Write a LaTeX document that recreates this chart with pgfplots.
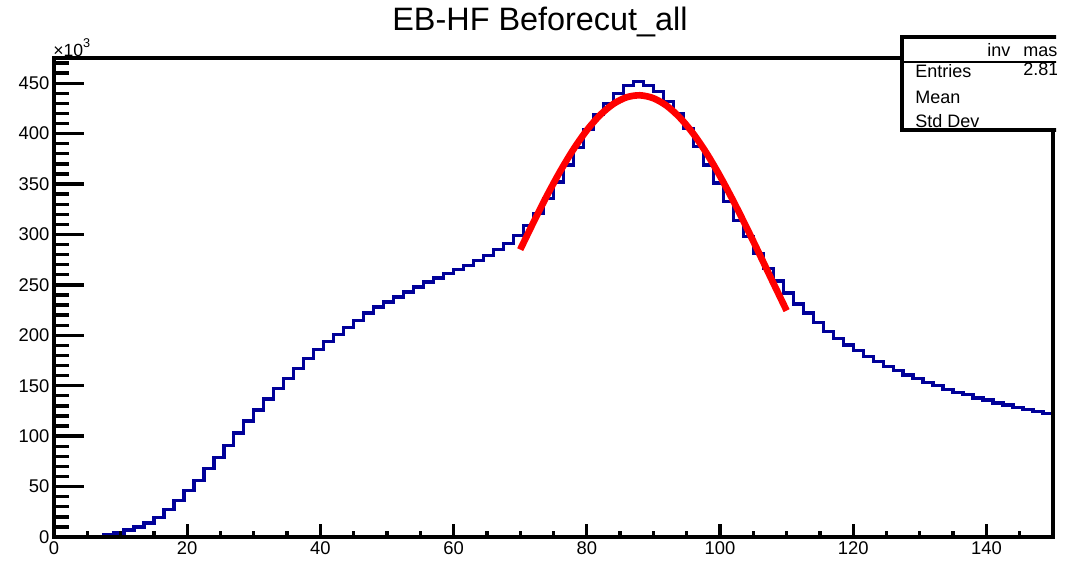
\documentclass[border=0pt]{standalone}
\usepackage{fontspec}
\setmainfont{Liberation Sans}
\usepackage{pgfplots}
\pgfplotsset{compat=1.18}

\definecolor{histblue}{RGB}{0,0,153}

% one unit = one pixel of the 1069x562 reference
\begin{document}
\begin{tikzpicture}[x=0.75pt,y=0.75pt]
\begin{axis}[
    at={(40.5pt,18.75pt)}, anchor=south west,
    scale only axis, width=749.25pt, height=359.25pt,
    xmin=0, xmax=150, ymin=0, ymax=475,
    axis on top,
    axis line style={line width=2.5pt},
    tick pos=left, tick align=inside,
    xtick={0,20,...,140}, minor xtick={5,10,...,150},
    ytick={0,50,...,450}, minor ytick={10,20,...,470},
    every tick/.style={black, line width=2.5pt},
    xtick style={/pgfplots/major tick length=9.75pt, /pgfplots/minor tick length=4.5pt},
    ytick style={/pgfplots/major tick length=22.5pt, /pgfplots/minor tick length=11.25pt},
    tick label style={font=\fontsize{13.8}{16}\selectfont},
    /pgf/number format/assume math mode=true,
    scaled y ticks=false,
]
\addplot[const plot, histblue, line width=2.5pt] coordinates {
(0,0) (1.5,0) (3,0.1) (4.5,0.3) (6,0.8) (7.5,2) (9,4) (10.5,7) (12,10) (13.5,14)
(15,19.5) (16.5,27) (18,36) (19.5,46) (21,56) (22.5,68) (24,79) (25.5,91) (27,103) (28.5,115)
(30,126) (31.5,137) (33,147.5) (34.5,157.5) (36,167) (37.5,177) (39,186) (40.5,194) (42,201) (43.5,208)
(45,215) (46.5,222) (48,228) (49.5,233) (51,238) (52.5,243) (54,248) (55.5,253) (57,257) (58.5,261)
(60,265) (61.5,269) (63,274) (64.5,279) (66,285) (67.5,291) (69,299) (70.5,309) (72,321) (73.5,336)
(75,352) (76.5,369) (78,386) (79.5,404) (81,419) (82.5,430) (84,440) (85.5,448) (87,452) (88.5,448)
(90,442) (91.5,432) (93,420) (94.5,405) (96,387) (97.5,369) (99,351) (100.5,333) (102,314) (103.5,298)
(105,281) (106.5,266) (108,254) (109.5,242) (111,231) (112.5,222) (114,213) (115.5,204) (117,197) (118.5,190.5)
(120,185) (121.5,179) (123,174) (124.5,169) (126,165) (127.5,160.7) (129,157) (130.5,153) (132,150) (133.5,146.5)
(135,143.5) (136.5,141) (138,138) (139.5,136) (141,133) (142.5,131) (144,128.7) (145.5,126.7) (147,124.3) (148.5,122.7)
(150,122.7)
};
\addplot[red, line width=5pt, smooth] coordinates {
(70,285.0) (72,312.2) (74,338.3) (76,362.6) (78,384.5) (80,403.3) (82,418.5) (84,429.5)
(86,436.1) (88,438.0) (90,435.1) (92,427.6) (94,415.7) (96,399.8) (98,380.4) (100,357.9)
(102,333.2) (104,306.8) (106,279.5) (108,251.9) (110,224.5)
};
\end{axis}
% title
\node[anchor=base, font=\fontsize{24.3}{28}\selectfont] at (540,531) {EB-HF Beforecut\_all};
% exponent of the y axis
\node[anchor=base west, inner sep=0pt, font=\fontsize{13.2}{15}\selectfont] at (53,506)
    {×10\raisebox{0.5em}{\fontsize{9.5}{10}\selectfont 3}};
% statistics box, cut off at the canvas edge as in the reference
\begin{scope}
\clip (0,0) rectangle (1056,562);
\draw[line width=2.5pt, fill=white] (902,525) rectangle (1100,432);
\draw[line width=2.2pt] (902,500) -- (1100,500);
\begin{scope}[every node/.style={anchor=base west, inner sep=0pt, font=\fontsize{13.5}{16}\selectfont}]
\node at (987,506) {inv};
\node at (1023,506) {mass};
\node at (915,485) {Entries};
\node at (1023,487) {2.815e+07};
\node at (915,459) {Mean};
\node at (915,435) {Std Dev};
\end{scope}
\end{scope}
\pgfresetboundingbox
\path[use as bounding box] (0,0) rectangle (1069,562);
\end{tikzpicture}
\end{document}
